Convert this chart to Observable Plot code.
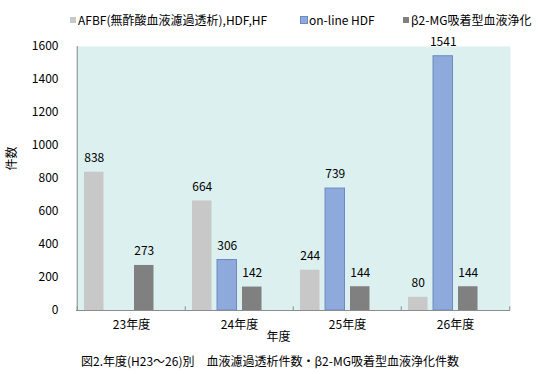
<!DOCTYPE html>
<html>
<head>
<meta charset="utf-8">
<script src="https://cdn.jsdelivr.net/npm/d3@7"></script>
<script src="https://cdn.jsdelivr.net/npm/@observablehq/plot@0.6"></script>
<style>
  body { margin: 0; background: #fff; font-family: "Noto Sans CJK JP", sans-serif; }
  #wrap { position: relative; width: 558px; height: 374px; overflow: hidden; }
  #legend { position: relative; height: 30px; font-size: 12px; color: #000; }
  .item { position: absolute; top: 12px; line-height: 16px; white-space: nowrap; display: flex; align-items: center; }
  .sw { width: 6px; height: 6px; margin-right: 2px; display: inline-block; }
  #caption { height: 26px; line-height: 26px; font-size: 12px; padding-left: 81px; white-space: nowrap; color: #000; }
  svg { display: block; }
</style>
</head>
<body>
<div id="wrap">
  <div id="legend"></div>
  <div id="chart"></div>
  <div id="caption"></div>
</div>
<script>
const years = ["23年度", "24年度", "25年度", "26年度"];
const seriesNames = ["AFBF(無酢酸血液濾過透析),HDF,HF", "on-line HDF", "β2-MG吸着型血液浄化"];
const afbf = [838, 664, 244, 80];
const online = [null, 306, 739, 1541];
const beta2mg = [273, 142, 144, 144];
const yTicks = [0, 200, 400, 600, 800, 1000, 1200, 1400, 1600];
const yLabel = "件数";
const xLabel = "年度";
const caption = "図2.年度(H23～26)別　血液濾過透析件数・β2-MG吸着型血液浄化件数";

const colors = ["#c8c8c8", "#8eaadc", "#808080"];
const strokes = ["#c8c8c8", "#6f8ac0", "#808080"];
const legendX = [70, 301, 403];

const seriesValues = [afbf, online, beta2mg];
const rows = [];
seriesValues.forEach((vals, si) => {
  vals.forEach((v, i) => {
    if (v != null) rows.push({year: years[i], series: seriesNames[si], value: v});
  });
});

// bar placement inside each year's band (bandwidth 108.5)
const insets = [[7, 81.5], [32, 56.5], [57, 31.5]];
const half = 108.5 / 2;

const marks = [
  Plot.frame({fill: "#dcf0ef", stroke: null}),
];
seriesNames.forEach((name, si) => {
  const data = rows.filter(d => d.series === name);
  const [l, r] = insets[si];
  marks.push(Plot.barY(data, {
    x: "year", y: "value",
    fill: colors[si], stroke: strokes[si], strokeWidth: si === 1 ? 1 : 0,
    insetLeft: l, insetRight: r
  }));
  marks.push(Plot.text(data, {
    x: "year", y: "value", text: d => String(d.value),
    dx: (l + (108.5 - r)) / 2 - half, dy: -14,
    fontSize: 12, fill: "#000"
  }));
});
marks.push(
  Plot.ruleY([0], {stroke: "#8c8c8c"}),
  Plot.ruleX([years[0]], {x: d => d, dx: -half, stroke: "#8c8c8c"}),
  Plot.ruleX(years, {x: d => d, dx: -half, y1: 0, y2: 22, stroke: "#8c8c8c"}),
  Plot.ruleX([years[years.length - 1]], {x: d => d, dx: half, y1: 0, y2: 22, stroke: "#8c8c8c"}),
  Plot.axisY(yTicks, {tickSize: 0, tickPadding: 18, label: null, fontSize: 12, tickFormat: d => String(d)}),
  Plot.axisX({tickSize: 0, tickPadding: 10, label: null, fontSize: 12}),
  Plot.text([yLabel], {frameAnchor: "left", dx: -64, dy: -8, rotate: -90, fontSize: 12}),
  Plot.text([xLabel], {frameAnchor: "bottom", dx: -15, dy: 30, fontSize: 12})
);

const chart = Plot.plot({
  width: 558,
  height: 318,
  marginTop: 16,
  marginBottom: 38,
  marginLeft: 76,
  marginRight: 48,
  style: {fontFamily: "'Noto Sans CJK JP', sans-serif", fontSize: "12px", color: "#000", background: "transparent"},
  x: {domain: years, padding: 0, axis: null},
  y: {domain: [0, 1600], axis: null},
  marks
});
document.getElementById("chart").appendChild(chart);

const legend = document.getElementById("legend");
seriesNames.forEach((name, i) => {
  const it = document.createElement("div");
  it.className = "item";
  it.style.left = legendX[i] + "px";
  const sw = document.createElement("span");
  sw.className = "sw";
  sw.style.background = colors[i];
  if (i === 1) sw.style.outline = "1px solid " + strokes[1];
  it.appendChild(sw);
  it.appendChild(document.createTextNode(name));
  legend.appendChild(it);
});
document.getElementById("caption").textContent = caption;
</script>
</body>
</html>
